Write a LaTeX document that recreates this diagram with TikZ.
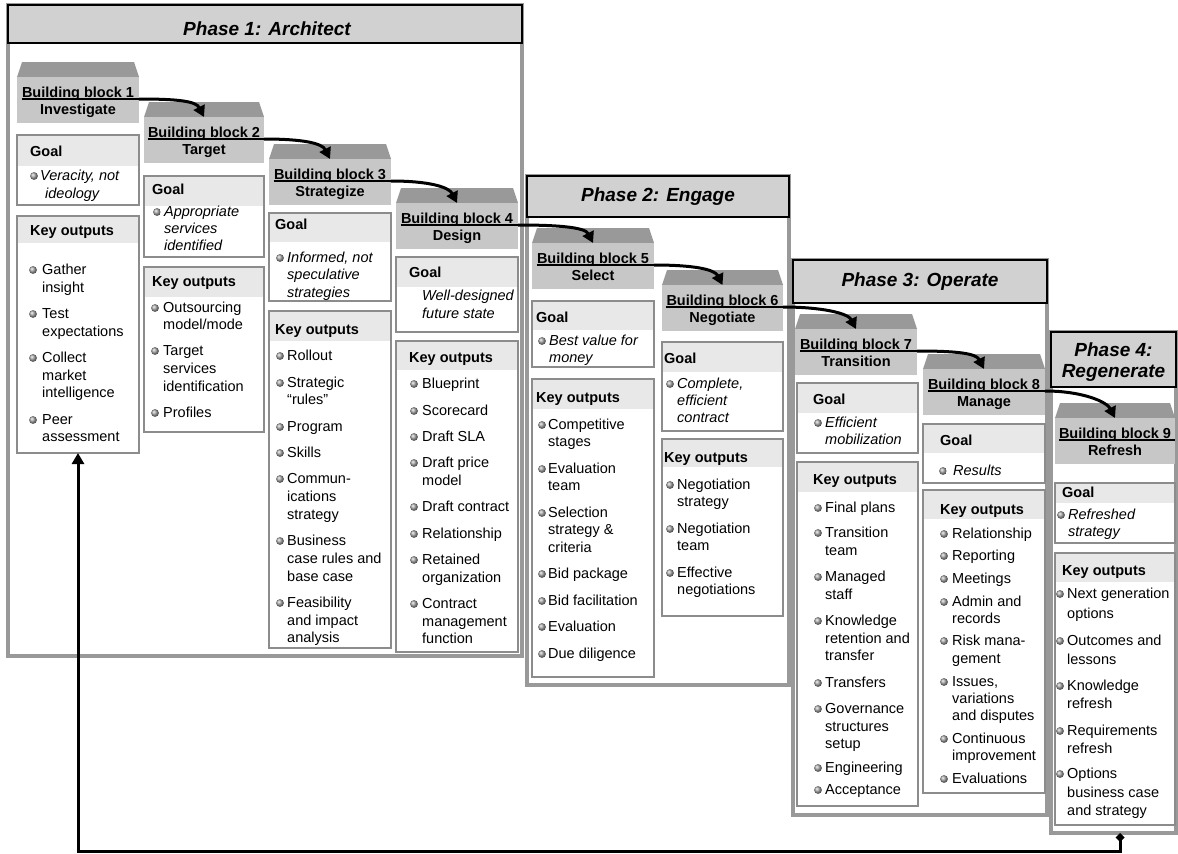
\documentclass[tikz,border=0pt]{standalone}
\usepackage{fontspec}
\setmainfont{Liberation Sans}
\usetikzlibrary{arrows.meta}

\definecolor{bbtop}{gray}{0.6}
\definecolor{bbbody}{gray}{0.78}
\definecolor{hdrfill}{gray}{0.91}
\definecolor{boxline}{gray}{0.55}
\definecolor{bandfill}{gray}{0.82}
\definecolor{framegray}{gray}{0.6}

% rectangle node given by its corners
\newcommand\rectnode[6]{\node[#2,anchor=north west,minimum width={(#5)-(#3)},minimum height={(#6)-(#4)}] (#1) at (#3,#4) {};}

% building block: name, left, right, body top, number, subtitle
\newcommand\bblock[6]{%
  \fill[bbtop] (#2,#4) -- ({#2+5},{#4-15}) -- ({#3-5},{#4-15}) -- (#3,#4) -- cycle;
  \rectnode{#1}{bbody}{#2}{#4}{#3}{#4+46}
  \node[bbtxt] (#1-t) at ({(#2+#3)/2},{#4+20}) {Building block #5};
  \node[bbtxt] (#1-s) at ({(#2+#3)/2},{#4+37}) {#6};
}

% output box: name, x1, y1, x2, y2, header bottom, heading, heading x, heading y
\newcommand\obox[9]{%
  \fill[hdrfill] (#2,#3) rectangle (#4,#6);
  \rectnode{#1}{obox}{#2}{#3}{#4}{#5}
  \node[hdtxt] (#1-h) at (#8,{#9+5}) {#7};
}

% text lines: name, style, bullet x, list of flag/x/text/y
\newcommand\lines[4]{%
  \foreach \bul/\xx/\lbl/\yy [count=\nn] in {#4} {
    \ifnum\bul=1 \shade[ball color=gray!70] (#3,{\yy+1}) circle (3.9pt); \fi
    \node[txt,#2] (#1-\nn) at (\xx,{\yy+5}) {\lbl};
  }}

\begin{document}
\begin{tikzpicture}[x=1pt,y=-1pt,
  phframe/.style={draw=framegray, line width=3.5pt, inner sep=0, outer sep=0},
  phband/.style={draw=black, line width=1.2pt, fill=bandfill, inner sep=0, outer sep=0},
  phtitle/.style={font=\bfseries\itshape\fontsize{19}{21}\selectfont, align=center, inner sep=0},
  bbody/.style={fill=bbbody, inner sep=0, outer sep=0},
  bbtxt/.style={anchor=base, inner sep=0, font=\bfseries\fontsize{14.5}{17}\selectfont},
  obox/.style={draw=boxline, line width=1.4pt, inner sep=0, outer sep=0},
  hdtxt/.style={anchor=base west, inner sep=0, font=\bfseries\fontsize{14.5}{17}\selectfont},
  txt/.style={anchor=base west, inner sep=0, font=\fontsize{14.5}{17}\selectfont},
  goal/.style={font=\itshape\fontsize{14.5}{17}\selectfont},
  upright/.style={},
  uline/.style={line width=2pt},
  conn/.style={line width=3pt, -{Triangle[length=11pt,width=12pt]}},
  fb/.style={line width=3pt, {Diamond[length=9pt,width=9pt]}-{Triangle[length=11pt,width=12pt]}}]

\useasboundingbox (0,0) rectangle (1178,854);

% ---- phase frames ----
\rectnode{ph1}{phframe}{8}{5}{522}{656}
\rectnode{ph2}{phframe}{527}{176}{789}{685}
\rectnode{ph3}{phframe}{793}{260}{1047}{815}
\rectnode{ph4}{phframe}{1051}{332}{1176}{833}

\rectnode{ph1b}{phband}{8}{5}{522}{43}
\rectnode{ph2b}{phband}{527}{176}{789}{217}
\rectnode{ph3b}{phband}{793}{260}{1047}{303}
\rectnode{ph4b}{phband}{1051}{332}{1176}{387}

\node[phtitle] (ph1t) at (267,29) {Phase 1: Architect};
\node[phtitle] (ph2t) at (658,197) {Phase 2: Engage};
\node[phtitle] (ph3t) at (920,282) {Phase 3: Operate};
\node[phtitle] (ph4t) at (1113.5,362) {Phase 4:\\Regenerate};

% ---- building blocks ----
\bblock{b1}{17}{139}{77}{1}{Investigate}
\bblock{b2}{144}{264}{117}{2}{Target}
\bblock{b3}{269}{391}{159}{3}{Strategize}
\bblock{b4}{396}{518}{203}{4}{Design}
\bblock{b5}{532}{654}{243}{5}{Select}
\bblock{b6}{662}{783}{285}{6}{Negotiate}
\bblock{b7}{795}{917}{329}{7}{Transition}
\bblock{b8}{923}{1045}{369}{8}{Manage}
\bblock{b9}{1055}{1175}{418}{9}{Refresh}

% ---- goal and output boxes ----
\obox{g1}{17}{135}{139}{205}{166}{Goal}{30}{151}
\obox{k1}{17}{216}{139}{453}{243}{Key outputs}{30}{230}
\obox{g2}{144}{176}{264}{257}{206}{Goal}{152}{189}
\obox{k2}{144}{267}{264}{432}{297}{Key outputs}{152}{281}
\obox{g3}{269}{213}{391}{301}{242}{Goal}{275}{224}
\obox{k3}{269}{311}{391}{648}{341}{Key outputs}{275}{329}
\obox{g4}{396}{257}{518}{332}{287}{Goal}{409}{272}
\obox{k4}{396}{341}{518}{652}{370}{Key outputs}{409}{357}
\obox{g5}{532}{301}{654}{367}{330}{Goal}{536}{317}
\obox{k5}{532}{379}{654}{677}{409}{Key outputs}{536}{397}
\obox{g6}{662}{342}{783}{431}{372}{Goal}{664}{358}
\obox{k6}{662}{439}{783}{616}{467}{Key outputs}{664}{457}
\obox{g7}{797}{383}{918}{453}{413}{Goal}{813}{399}
\obox{k7}{797}{462}{918}{806}{492}{Key outputs}{813}{479}
\obox{g8}{923}{424}{1045}{483}{453}{Goal}{940}{440}
\obox{k8}{923}{490}{1045}{793}{519}{Key outputs}{940}{509}
\obox{g9}{1055}{483}{1175}{543}{503}{Goal}{1062}{492}
\obox{k9}{1055}{553}{1175}{825}{582}{Key outputs}{1062}{570}

% ---- box contents ----
\lines{g1l}{goal}{34}{1/40/{Veracity, not}/175, 0/45/ideology/193}
\lines{k1l}{upright}{33}{1/42/Gather/269, 0/42/insight/287, 1/42/Test/313, 0/42/expectations/331,
  1/42/Collect/357, 0/42/market/375, 0/42/intelligence/392, 1/42/Peer/419, 0/42/assessment/436}
\lines{g2l}{goal}{157}{1/164/Appropriate/211, 0/164/services/228, 0/164/identified/245}
\lines{k2l}{upright}{155}{1/163/Outsourcing/307, 0/163/{model/mode}/324, 1/163/Target/350,
  0/163/services/368, 0/163/identification/386, 1/163/Profiles/412}
\lines{g3l}{goal}{280}{1/287/{Informed, not}/257, 0/287/speculative/274, 0/287/strategies/292}
\lines{k3l}{upright}{280}{1/287/Rollout/355, 1/287/Strategic/382, 0/287/“rules”/399, 1/287/Program/426,
  1/287/Skills/452, 1/287/Commun-/478, 0/287/ications/496, 0/287/strategy/514, 1/287/Business/540,
  0/287/case rules and/558, 0/287/base case/576, 1/287/Feasibility/602, 0/287/and impact/620,
  0/287/analysis/637}
\lines{g4l}{goal}{414}{0/422/Well-designed/295, 0/422/future state/313}
\lines{k4l}{upright}{414}{1/422/Blueprint/383, 1/422/Scorecard/410, 1/422/Draft SLA/436,
  1/422/Draft price/462, 0/422/model/480, 1/422/Draft contract/506, 1/422/Relationship/533,
  1/422/Retained/559, 0/422/organization/577, 1/422/Contract/603, 0/422/management/621,
  0/422/function/638}
\lines{g5l}{goal}{542}{1/549/Best value for/340, 0/549/money/357}
\lines{k5l}{upright}{542}{1/548/Competitive/424, 0/548/stages/441, 1/548/Evaluation/468, 0/548/team/485,
  1/548/Selection/512, 0/548/strategy \&/529, 0/548/criteria/547, 1/548/Bid package/573,
  1/548/Bid facilitation/600, 1/548/Evaluation/626, 1/548/Due diligence/653}
\lines{g6l}{goal}{670}{1/677/{Complete,}/383, 0/677/efficient/400, 0/677/contract/417}
\lines{k6l}{upright}{670}{1/677/Negotiation/484, 0/677/strategy/501, 1/677/Negotiation/528,
  0/677/team/545, 1/677/Effective/572, 0/677/negotiations/589}
\lines{g7l}{goal}{818}{1/825/Efficient/422, 0/825/mobilization/439}
\lines{k7l}{upright}{818}{1/825/Final plans/507, 1/825/Transition/532, 0/825/team/550, 1/825/Managed/576,
  0/825/staff/594, 1/825/Knowledge/620, 0/825/retention and/638, 0/825/transfer/655,
  1/825/Transfers/682, 1/825/Governance/708, 0/825/structures/726, 0/825/setup/743,
  1/825/Engineering/767, 1/825/Acceptance/789}
\lines{g8l}{goal}{943}{1/953/Results/470}
\lines{k8l}{upright}{944}{1/952/Relationship/533, 1/952/Reporting/555, 1/952/Meetings/578,
  1/952/Admin and/601, 0/952/records/618, 1/952/Risk mana-/640, 0/952/gement/658,
  1/952/{Issues,}/681, 0/952/variations/698, 0/952/and disputes/715, 1/952/Continuous/738,
  0/952/improvement/755, 1/952/Evaluations/778}
\lines{g9l}{goal}{1061}{1/1068/Refreshed/514, 0/1068/strategy/531}
\lines{k9l}{upright}{1060}{1/1067/Next generation/593, 0/1067/options/613, 1/1067/Outcomes and/640,
  0/1067/lessons/659, 1/1067/Knowledge/685, 0/1067/refresh/703, 1/1067/Requirements/730,
  0/1067/refresh/748, 1/1067/Options/773, 0/1067/business case/792, 0/1067/and strategy/810}

% ---- connectors between building blocks ----
\foreach \a/\b in {b1/b2, b2/b3, b3/b4, b4/b5, b5/b6, b6/b7, b7/b8, b8/b9} {
  \coordinate (\a-ul) at ([yshift=-2pt]\a-t.base west);
  \coordinate (\a-ur) at (\a-ul -| \a.east);
  \draw[uline] (\a-ul) -- (\a-ur);
  \draw[conn] (\a-ur) .. controls +(38,0) and +(-8,-16) .. (\b.north);
}
\coordinate (b9-ul) at ([yshift=-2pt]b9-t.base west);
\draw[uline] (b9-ul) -- (b9-ul -| b9.east);

% ---- feedback loop back to the first block ----
\coordinate (fbs) at ([xshift=6.5pt]ph4.south);
\draw[fb] (fbs) -- ++(0,18) -| (k1.south);

\end{tikzpicture}
\end{document}
